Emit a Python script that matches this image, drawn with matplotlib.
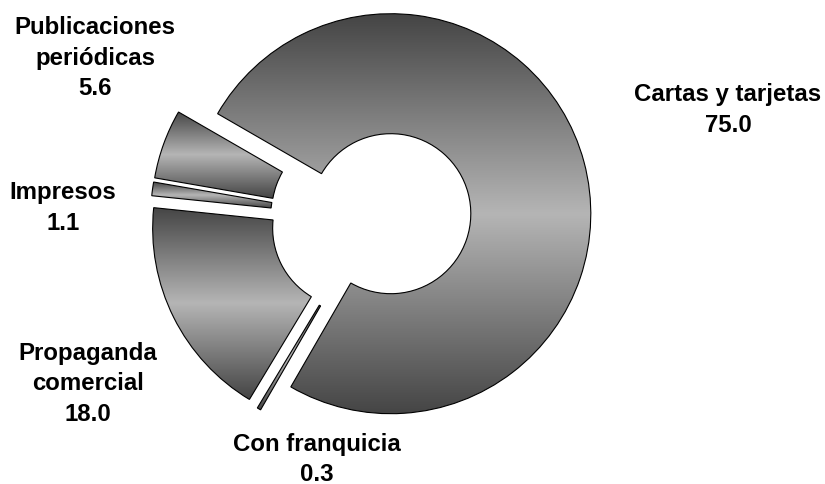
import matplotlib
matplotlib.use('Agg')
import matplotlib.pyplot as plt
import numpy as np

# ---- data ----
categories = ['Cartas y tarjetas', 'Con franquicia', 'Propaganda\ncomercial',
              'Impresos', 'Publicaciones\nperiódicas']
values = [75.0, 0.3, 18.0, 1.1, 5.6]

# ---- layout / style ----
W, H = 825, 485
CENTER = (371, H - 220)
RADIUS = 200
HOLE = 0.4            # inner radius fraction
EXPLODE = 20.5        # data units (pixels)
START = 150
DARK, LIGHT = 0.27, 0.71
label_pos = [(728, H - 110), (317, H - 459.5), (88, H - 384), (63, H - 208), (95, H - 58)]

plt.rcParams['font.family'] = ['Liberation Sans', 'DejaVu Sans']

fig = plt.figure(figsize=(W / 100, H / 100), dpi=100)
ax = fig.add_axes([0, 0, 1, 1])

wedges, _ = ax.pie(values, startangle=START, counterclock=False, center=CENTER,
                   radius=RADIUS, explode=[EXPLODE] * len(values),
                   wedgeprops=dict(width=RADIUS * (1 - HOLE), edgecolor='black',
                                   linewidth=0.8, facecolor='none', zorder=3))
ax.set_xlim(0, W)
ax.set_ylim(0, H)
ax.set_aspect('equal')
ax.axis('off')

# vertical gradient per wedge: dark top, light middle, dark bottom
t = np.linspace(0, 1, 256)
prof = DARK + (LIGHT - DARK) * (1 - np.abs(2 * t - 1))
img = np.repeat(prof[:, None], 2, axis=1)
rgb = np.dstack([img, img, img])
for w in wedges:
    ext = w.get_path().get_extents(w.get_patch_transform())
    im = ax.imshow(rgb, extent=[ext.x0, ext.x1, ext.y0, ext.y1], origin='upper',
                   aspect='auto', interpolation='bilinear', zorder=2)
    im.set_clip_path(w)

ax.set_xlim(0, W)
ax.set_ylim(0, H)

for cat, v, (x, y) in zip(categories, values, label_pos):
    ax.text(x, y, f'{cat}\n{v:.1f}', ha='center', va='center', fontsize=17.3,
            fontweight='bold', linespacing=1.44, color='black')

fig.savefig('out.png', dpi=100)
